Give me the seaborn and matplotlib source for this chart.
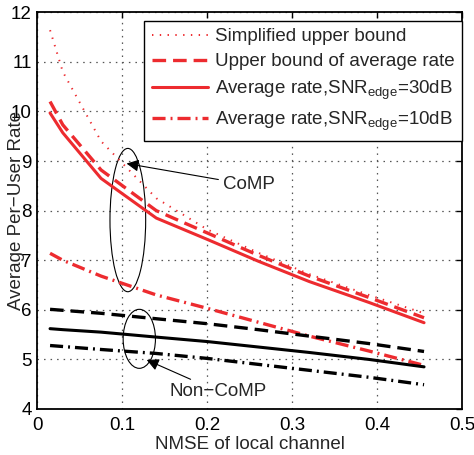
import numpy as np
import pandas as pd
import matplotlib
matplotlib.use('Agg')
import matplotlib.pyplot as plt
from matplotlib.patches import Ellipse
import seaborn as sns

# NMSE samples (x axis)
nmse = [0.015, 0.03, 0.075, 0.14, 0.2, 0.26, 0.32, 0.39, 0.455]

# CoMP curves (red)
comp_simplified = [11.64, 10.8, 9.4, 8.25, 7.62, 7.15, 6.72, 6.3, 5.93]
comp_upper = [10.2, 9.73, 8.82, 8.0, 7.55, 7.1, 6.68, 6.25, 5.84]
comp_avg30 = [9.97, 9.57, 8.65, 7.85, 7.42, 6.98, 6.57, 6.15, 5.74]
comp_avg10 = [7.14, 7.0, 6.68, 6.3, 6.03, 5.75, 5.47, 5.17, 4.88]

# Non-CoMP curves (black)
noncomp_upper = [6.01, 5.99, 5.93, 5.82, 5.72, 5.6, 5.47, 5.32, 5.16]
noncomp_avg30 = [5.62, 5.6, 5.55, 5.45, 5.36, 5.25, 5.14, 5.0, 4.85]
noncomp_avg10 = [5.28, 5.26, 5.2, 5.12, 5.02, 4.9, 4.78, 4.64, 4.49]

labels = ['Simplified upper bound',
          'Upper bound of average rate',
          r'Average rate,SNR$_\mathregular{edge}$=30dB',
          r'Average rate,SNR$_\mathregular{edge}$=10dB']

sns.set_theme(style='white')
plt.rcParams['font.family'] = ['Liberation Sans', 'DejaVu Sans']
plt.rcParams['font.size'] = 13.5
plt.rcParams['lines.scale_dashes'] = False

red = '#ED2B2F'
dotted = (0, (1.0, 4.6))
dashed = (0, (9.8, 5.0))
dashdot = (0, (9.4, 3.6, 1.4, 3.6))

fig = plt.figure(figsize=(4.74, 4.55), dpi=100)
ax = fig.add_axes([0.0787, 0.1011, 0.8966, 0.8719])

sns.lineplot(x=nmse, y=comp_simplified, ax=ax, color=red, lw=1.4, linestyle=dotted, label=labels[0])
sns.lineplot(x=nmse, y=comp_upper, ax=ax, color=red, lw=2.4, linestyle=dashed, label=labels[1])
sns.lineplot(x=nmse, y=comp_avg30, ax=ax, color=red, lw=2.2, linestyle='-', label=labels[2])
sns.lineplot(x=nmse, y=comp_avg10, ax=ax, color=red, lw=2.4, linestyle=dashdot, label=labels[3])

sns.lineplot(x=nmse, y=noncomp_upper, ax=ax, color='black', lw=2.4, linestyle=dashed)
sns.lineplot(x=nmse, y=noncomp_avg30, ax=ax, color='black', lw=2.2, linestyle='-')
sns.lineplot(x=nmse, y=noncomp_avg10, ax=ax, color='black', lw=2.4, linestyle=dashdot)

ax.set_xlim(0, 0.5)
ax.set_ylim(4, 12)
ax.set_xticks([0, 0.1, 0.2, 0.3, 0.4, 0.5])
ax.set_xticklabels(['0', '0.1', '0.2', '0.3', '0.4', '0.5'])
ax.set_yticks(range(4, 13))
ax.tick_params(direction='in', top=True, right=True, length=4, width=1,
               labelsize=13.5, colors='black')
ax.tick_params(axis='x', pad=6)
ax.tick_params(axis='y', pad=4)
ax.xaxis.grid(True, color='#555555', linestyle=(0, (1.1, 3.6)), linewidth=0.9)
ax.yaxis.grid(True, color='#555555', linestyle=(0, (1.1, 3.6)), linewidth=0.9)
for s in ax.spines.values():
    s.set_color('black')
    s.set_linewidth(1.3)

ax.set_xlabel('NMSE of local channel', fontsize=13.5)
ax.set_ylabel('Average Per\u2212User Rate', fontsize=13.5)
ax.xaxis.set_label_coords(0.5, -0.068)
ax.yaxis.set_label_coords(-0.03, 0.5)

# ellipses and arrows
ax.add_patch(Ellipse((0.1065, 7.81), 0.042, 2.89, fill=False, ec='black', lw=0.8))
ax.add_patch(Ellipse((0.12, 5.415), 0.038, 1.19, fill=False, ec='black', lw=0.8))
ax.annotate('CoMP', xy=(0.105, 8.95), xytext=(0.2185, 8.52), ha='left', va='center',
            fontsize=13.5,
            arrowprops=dict(arrowstyle='-|>', color='black', lw=0.8, mutation_scale=18,
                            shrinkA=1, shrinkB=0))
ax.annotate('Non\u2212CoMP', xy=(0.1287, 4.99), xytext=(0.156, 4.35), ha='left', va='center',
            fontsize=13.5,
            arrowprops=dict(arrowstyle='-|>', color='black', lw=0.8, mutation_scale=18,
                            shrinkA=1, shrinkB=0))

leg = ax.legend(loc='upper right', bbox_to_anchor=(0.9986, 0.9788), borderaxespad=0,
                fontsize=13.5, fancybox=False, framealpha=1, edgecolor='black',
                handlelength=3.0, handletextpad=0.35, labelspacing=0.42, borderpad=0.4)
leg.get_frame().set_linewidth(1.0)

fig.savefig('out.png', dpi=100)
